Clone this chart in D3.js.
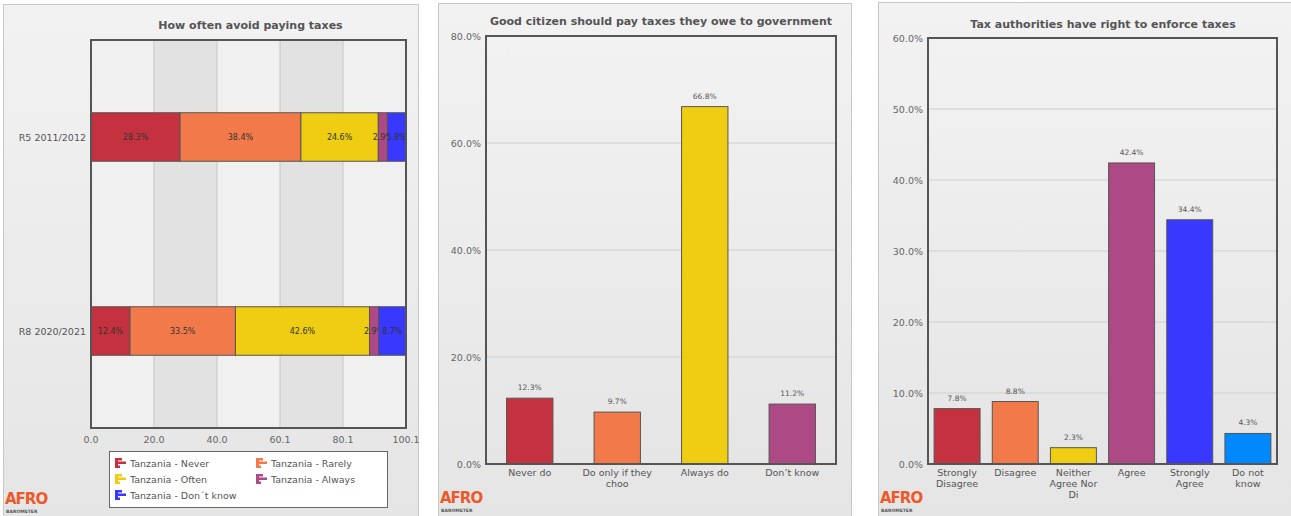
<!DOCTYPE html>
<html>
<head>
<meta charset="utf-8">
<script src="https://cdn.jsdelivr.net/npm/d3@7"></script>
<style>
  body { margin: 0; background: #fff; }
  svg { display: block; font-family: Verdana, "DejaVu Sans", sans-serif; }
</style>
</head>
<body>
<div id="chart"></div>
<script>
// chart 1 - stacked horizontal bars
const avoidRounds = ["R5 2011/2012", "R8 2020/2021"];
const avoidSeries = ["Tanzania - Never", "Tanzania - Rarely", "Tanzania - Often", "Tanzania - Always", "Tanzania - Don´t know"];
const avoidValues = [
  [28.3, 12.4],
  [38.4, 33.5],
  [24.6, 42.6],
  [2.9, 2.9],
  [5.8, 8.7]
];
const avoidTicks = [0, 20.02, 40.04, 60.06, 80.08, 100.1];

// chart 2
const citizenCats = ["Never do", "Do only if they\nchoo", "Always do", "Don’t know"];
const citizenValues = [12.3, 9.7, 66.8, 11.2];
const citizenTicks = [0, 20, 40, 60, 80];

// chart 3
const enforceCats = ["Strongly\nDisagree", "Disagree", "Neither\nAgree Nor\nDi", "Agree", "Strongly\nAgree", "Do not\nknow"];
const enforceValues = [7.8, 8.8, 2.3, 42.4, 34.4, 4.3];
const enforceTicks = [0, 10, 20, 30, 40, 50, 60];

const colors = ["#c4323f", "#f27a4a", "#eecd12", "#ad4a86", "#3838ff", "#0088ff"];

const svg = d3.select("#chart").append("svg")
  .attr("width", 1291)
  .attr("height", 516);

const defs = svg.append("defs");
const grad = defs.append("linearGradient")
  .attr("id", "panelBg").attr("x1", 0).attr("y1", 0).attr("x2", 0).attr("y2", 1);
grad.append("stop").attr("offset", "0%").attr("stop-color", "#f2f2f2");
grad.append("stop").attr("offset", "100%").attr("stop-color", "#e5e5e5");

function panel(x, y, w, h) {
  svg.append("rect")
    .attr("x", x + 0.5).attr("y", y + 0.5)
    .attr("width", w).attr("height", h)
    .attr("fill", "url(#panelBg)")
    .attr("stroke", "#c8c8c8");
}

function logo(x, y) {
  const g = svg.append("g").attr("transform", `translate(${x},${y})`);
  g.append("text").attr("x", 0).attr("y", 0)
    .attr("font-size", 15).attr("font-weight", "bold")
    .attr("fill", "#ec5a2a").attr("letter-spacing", -1)
    .text("AFRO");
  g.append("text").attr("x", 1).attr("y", 9)
    .attr("font-size", 4.5).attr("font-weight", "bold")
    .attr("fill", "#555")
    .text("BAROMETER");
}

function title(x, y, t) {
  svg.append("text").attr("x", x).attr("y", y)
    .attr("text-anchor", "middle")
    .attr("font-size", 11).attr("font-weight", "bold")
    .attr("fill", "#555")
    .text(t);
}

function multiline(sel, str, lh) {
  str.split("\n").forEach((line, i) => {
    sel.append("tspan").attr("x", 0).attr("dy", i === 0 ? 0 : lh).text(line);
  });
}

panel(3, 4, 415, 515);
panel(438, 3, 413, 515);
panel(878, 2, 415, 515);

// ---------- chart 1 ----------
(function () {
  const left = 91, right = 406, top = 40, bottom = 428;
  const x = d3.scaleLinear().domain([0, 100.1]).range([left, right]);
  const y = d3.scaleBand().domain(avoidRounds).range([top, bottom]);
  const g = svg.append("g");

  g.append("rect").attr("x", left).attr("y", top)
    .attr("width", right - left).attr("height", bottom - top)
    .attr("fill", "#f0f0f0");
  // alternating bands
  for (let i = 0; i < avoidTicks.length - 1; i++) {
    if (i % 2 === 1) {
      g.append("rect")
        .attr("x", x(avoidTicks[i])).attr("y", top)
        .attr("width", x(avoidTicks[i + 1]) - x(avoidTicks[i]))
        .attr("height", bottom - top)
        .attr("fill", "#e2e2e2");
    }
  }
  g.selectAll(".grid").data(avoidTicks.slice(1, -1)).enter().append("line")
    .attr("x1", d => x(d)).attr("x2", d => x(d))
    .attr("y1", top).attr("y2", bottom)
    .attr("stroke", "#c6c6c6").attr("stroke-width", 1);

  const barH = y.bandwidth() * 0.25;
  avoidRounds.forEach((r, ri) => {
    let acc = 0;
    avoidValues.forEach((vals, si) => {
      const v = vals[ri];
      const x0 = x(acc), x1 = x(acc + v);
      const yc = y(r) + y.bandwidth() / 2;
      g.append("rect")
        .attr("x", x0).attr("y", yc - barH / 2)
        .attr("width", x1 - x0).attr("height", barH)
        .attr("fill", colors[si])
        .attr("stroke", "#555").attr("stroke-width", 1);
      g.append("text")
        .attr("x", (x0 + x1) / 2).attr("y", yc + 3)
        .attr("text-anchor", "middle")
        .attr("font-size", 8).attr("fill", "#333")
        .text(v.toFixed(1) + "%");
      acc += v;
    });
    g.append("text")
      .attr("x", left - 5).attr("y", y(r) + y.bandwidth() / 2 + 4)
      .attr("text-anchor", "end")
      .attr("font-size", 9.5).attr("fill", "#555")
      .text(r);
  });

  g.append("rect").attr("x", left).attr("y", top)
    .attr("width", right - left).attr("height", bottom - top)
    .attr("fill", "none").attr("stroke", "#555").attr("stroke-width", 2);

  g.selectAll(".tick").data(avoidTicks).enter().append("text")
    .attr("x", d => x(d)).attr("y", bottom + 15)
    .attr("text-anchor", "middle")
    .attr("font-size", 9.5).attr("fill", "#666")
    .text(d => d.toFixed(1));

  title((left + right) / 2 + 2, 29, "How often avoid paying taxes");

  // legend
  const lg = svg.append("g").attr("transform", "translate(109,451)");
  lg.append("rect").attr("x", 0.5).attr("y", 0.5).attr("width", 278).attr("height", 56)
    .attr("fill", "#fff").attr("stroke", "#666");
  avoidSeries.forEach((s, i) => {
    const cx = 6 + (i % 2) * 141, cy = 13 + Math.floor(i / 2) * 16;
    const ic = lg.append("g").attr("transform", `translate(${cx},${cy - 6})`).attr("fill", colors[i]);
    ic.append("rect").attr("x", 0).attr("y", 0).attr("width", 3).attr("height", 10);
    ic.append("rect").attr("x", 0).attr("y", 0).attr("width", 7).attr("height", 2.5);
    ic.append("rect").attr("x", 0).attr("y", 3.5).attr("width", 11).attr("height", 2.5);
    ic.append("rect").attr("x", 0).attr("y", 7.5).attr("width", 5).attr("height", 2.5);
    lg.append("text").attr("x", cx + 15).attr("y", cy + 3)
      .attr("font-size", 9.5).attr("fill", "#555")
      .text(s);
  });
  logo(5, 504);
})();

// ---------- vertical bar charts ----------
function barChart(opts) {
  const { left, right, top, bottom, cats, values, ticks, max, pad, cols } = opts;
  const x = d3.scaleBand().domain(cats).range([left, right]).paddingInner(pad).paddingOuter(pad / 2);
  const y = d3.scaleLinear().domain([0, max]).range([bottom, top]);
  const g = svg.append("g");

  g.append("rect").attr("x", left).attr("y", top)
    .attr("width", right - left).attr("height", bottom - top)
    .attr("fill", "url(#panelBg)");

  g.selectAll(".grid").data(ticks.slice(1, -1)).enter().append("line")
    .attr("x1", left).attr("x2", right)
    .attr("y1", d => y(d)).attr("y2", d => y(d))
    .attr("stroke", "#cfcfcf").attr("stroke-width", 1);

  g.selectAll(".ytick").data(ticks).enter().append("text")
    .attr("x", left - 5).attr("y", d => y(d) + 4)
    .attr("text-anchor", "end")
    .attr("font-size", 9.5).attr("fill", "#666")
    .text(d => d.toFixed(1) + "%");

  cats.forEach((c, i) => {
    g.append("rect")
      .attr("x", x(c)).attr("y", y(values[i]))
      .attr("width", x.bandwidth()).attr("height", y(0) - y(values[i]))
      .attr("fill", cols[i]).attr("stroke", "#555").attr("stroke-width", 1);
    g.append("text")
      .attr("x", x(c) + x.bandwidth() / 2).attr("y", y(values[i]) - 8)
      .attr("text-anchor", "middle")
      .attr("font-size", 7.5).attr("fill", "#555")
      .text(values[i].toFixed(1) + "%");
    const t = g.append("text")
      .attr("transform", `translate(${x(c) + x.bandwidth() / 2},${bottom + 12})`)
      .attr("text-anchor", "middle")
      .attr("font-size", 9.5).attr("fill", "#555");
    multiline(t, c, 11);
  });

  g.append("rect").attr("x", left).attr("y", top)
    .attr("width", right - left).attr("height", bottom - top)
    .attr("fill", "none").attr("stroke", "#555").attr("stroke-width", 2);
}

barChart({
  left: 486, right: 836, top: 36, bottom: 464,
  cats: citizenCats, values: citizenValues, ticks: citizenTicks, max: 80,
  pad: 0.47, cols: colors.slice(0, 4)
});
title(661, 25, "Good citizen should pay taxes they owe to government");
logo(440, 503);

barChart({
  left: 928, right: 1277, top: 38, bottom: 464,
  cats: enforceCats, values: enforceValues, ticks: enforceTicks, max: 60,
  pad: 0.21, cols: colors
});
title(1103, 28, "Tax authorities have right to enforce taxes");
logo(880, 503);
</script>
</body>
</html>
